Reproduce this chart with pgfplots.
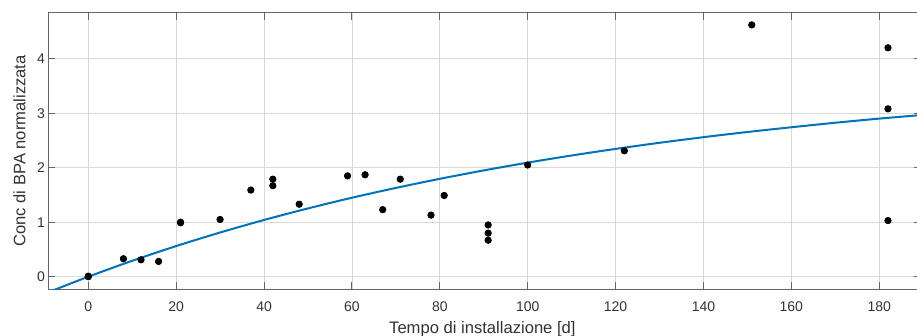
\documentclass[border=0pt]{standalone}
\usepackage{pgfplots}
\pgfplotsset{compat=1.18}
\usepackage{fontspec}
\setmainfont{Liberation Sans}
\definecolor{mblue}{rgb}{0,0.447,0.741}
\definecolor{axgray}{gray}{0.4}
\definecolor{txtgray}{gray}{0.2}
\begin{document}
\begin{tikzpicture}
\useasboundingbox (0,0) rectangle (458.5pt,168pt);
\begin{axis}[
  at={(24.15pt,23.35pt)}, anchor=south west,
  scale only axis, width=436.1pt, height=138.3pt,
  xmin=-9.1, xmax=189.4, ymin=-0.231, ymax=4.844,
  xtick={0,20,...,180}, ytick={0,1,2,3,4},
  grid=major, grid style={gray!30, line width=0.4pt},
  axis line style={axgray, line width=0.5pt},
  tick align=inside, major tick length=3.5pt,
  tick style={axgray, line width=0.5pt},
  /pgf/number format/assume math mode=true,
  ticklabel style={font=\fontsize{7}{8}\selectfont, text=txtgray},
  xticklabel style={anchor=base, inner sep=0pt, yshift=-11.2pt},
  yticklabel style={anchor=east, inner sep=0pt, xshift=-1.5pt},
  label style={font=\fontsize{8.3}{10}\selectfont, text=txtgray},
  xlabel={Tempo di installazione [d]},
  ylabel={Conc di BPA normalizzata},
  xlabel style={at={(axis description cs:0.4977,-0.160)}, anchor=base, inner sep=0pt},
  ylabel style={at={(axis description cs:-0.0264,0.5)}, anchor=base, inner sep=0pt},
]
\addplot[mblue, line width=1pt, smooth] coordinates {
(-9.1,-0.285) (-7.3,-0.229) (0,0) (10,0.292) (20,0.562) (30,0.811) (40,1.041)
(50,1.253) (60,1.449) (70,1.629) (80,1.796) (90,1.950) (100,2.093)
(110,2.224) (120,2.345) (130,2.457) (140,2.560) (150,2.655) (160,2.742)
(170,2.825) (180,2.901) (190,2.969)
};
\addplot[only marks, mark=*, mark size=1.6pt, black] coordinates {
(0,0) (0,0.01) (8,0.33) (12,0.31) (16,0.28) (21,1.00) (21,0.99) (30,1.05)
(37,1.59) (42,1.79) (42,1.67) (48,1.33) (59,1.85) (63,1.87) (67,1.23)
(71,1.79) (78,1.13) (81,1.49) (91,0.95) (91,0.80) (91,0.67) (100,2.05)
(122,2.31) (151,4.62) (182,4.20) (182,3.08) (182,1.03)
};
\end{axis}
\end{tikzpicture}
\end{document}
